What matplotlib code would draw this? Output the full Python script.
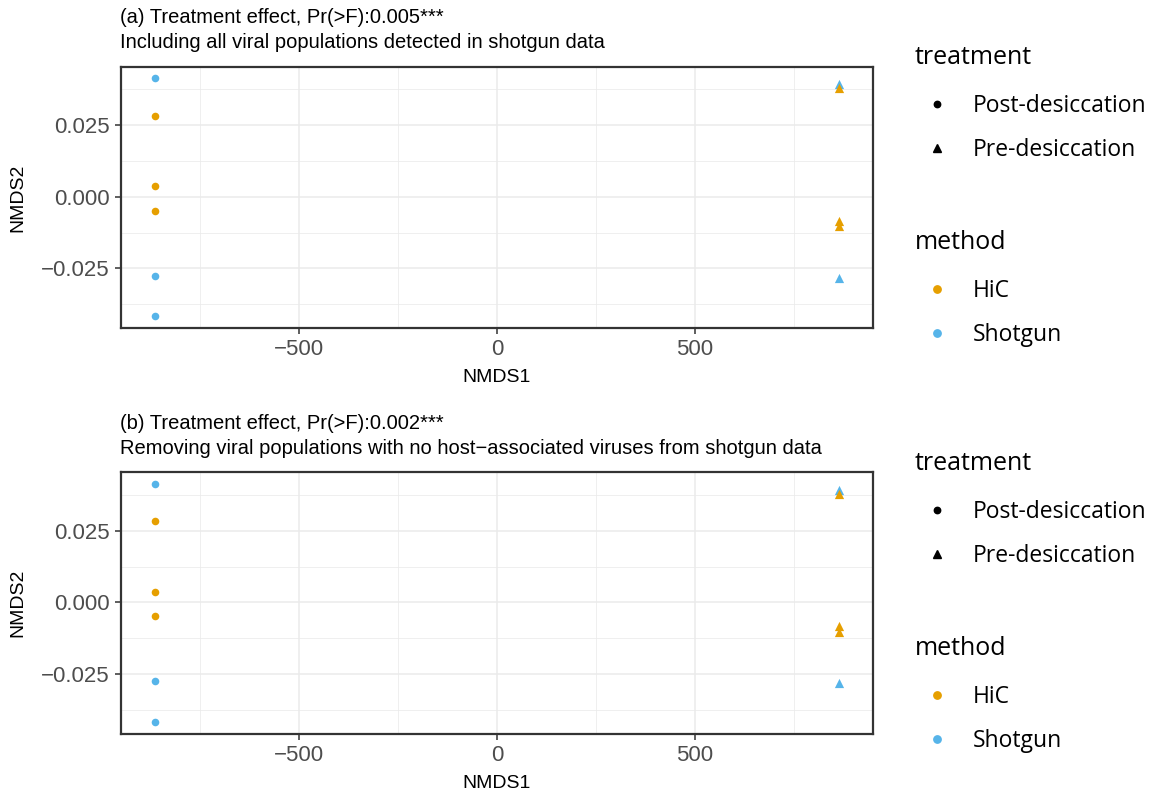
import matplotlib
matplotlib.use("Agg")
import matplotlib.pyplot as plt
from matplotlib.lines import Line2D
from matplotlib.ticker import MultipleLocator

# ---------------- data ----------------
methods = ["Shotgun", "HiC"]
method_colors = {"HiC": "#E69F00", "Shotgun": "#56B4E9"}
legend_methods = ["HiC", "Shotgun"]
treatments = ["Post-desiccation", "Pre-desiccation"]
treatment_markers = {"Post-desiccation": "o", "Pre-desiccation": "^"}

# panel (a)
a_nmds1 = [-864, -864, -864, -864, -864, -864, 864, 864, 864, 864, 864]
a_nmds2 = [0.0413, -0.0275, -0.0417, 0.0283, 0.0036, -0.0049,
           0.0393, -0.0283, 0.0378, -0.0084, -0.0103]
a_method = ["Shotgun", "Shotgun", "Shotgun", "HiC", "HiC", "HiC",
            "Shotgun", "Shotgun", "HiC", "HiC", "HiC"]
a_treat = ["Post-desiccation"] * 6 + ["Pre-desiccation"] * 5

# panel (b)
b_nmds1 = [-864, -864, -864, -864, -864, -864, 864, 864, 864, 864, 864]
b_nmds2 = [0.0413, -0.0275, -0.0417, 0.0283, 0.0036, -0.0049,
           0.0393, -0.0283, 0.0378, -0.0084, -0.0103]
b_method = a_method
b_treat = a_treat

title_a = ["(a) Treatment effect, Pr(>F):0.005***",
           "Including all viral populations detected in shotgun data"]
title_b = ["(b) Treatment effect, Pr(>F):0.002***",
           "Removing viral populations with no host\u2212associated viruses from shotgun data"]

x_ticks = [-500, 0, 500]
x_ticklabels = ["\u2212500", "0", "500"]
y_ticks = [-0.025, 0.0, 0.025]
y_ticklabels = ["\u22120.025", "0.000", "0.025"]

# ---------------- drawing ----------------
W, H = 1155, 792
fig = plt.figure(figsize=(W / 100, H / 100), dpi=100)

base_font = "Liberation Sans"
leg_font = "Open Sans"


def fx(px):
    return px / W


def fy(py):
    return 1 - py / H


def draw_panel(top, bottom, xs, ys, meths, treats, title, dy):
    left, right = 121, 873
    ax = fig.add_axes([fx(left), fy(bottom), fx(right) - fx(left), fy(top) - fy(bottom)])
    ax.set_facecolor("white")
    for m in methods:
        for t in treatments:
            px = [x for x, mm, tt in zip(xs, meths, treats) if mm == m and tt == t]
            py = [y for y, mm, tt in zip(ys, meths, treats) if mm == m and tt == t]
            if px:
                ax.scatter(px, py, s=30 if t == "Post-desiccation" else 44,
                           marker=treatment_markers[t], color=method_colors[m],
                           linewidths=0, zorder=3)
    ax.set_xlim(-950, 950)
    ax.set_ylim(-0.0458, 0.0454)
    ax.set_xticks(x_ticks)
    ax.set_xticklabels(x_ticklabels)
    ax.set_yticks(y_ticks)
    ax.set_yticklabels(y_ticklabels)
    ax.xaxis.set_minor_locator(MultipleLocator(250))
    ax.yaxis.set_minor_locator(MultipleLocator(0.0125))
    ax.grid(which="major", color="#EBEBEB", linewidth=1.1, zorder=0)
    ax.grid(which="minor", color="#EBEBEB", linewidth=0.55, zorder=0)
    ax.set_axisbelow(True)
    ax.tick_params(which="minor", length=0)
    ax.tick_params(which="major", length=4, width=1.1, color="#333333",
                   labelsize=16, labelcolor="#4D4D4D", pad=4)
    for lab in ax.get_xticklabels() + ax.get_yticklabels():
        lab.set_fontfamily(base_font)
    for sp in ax.spines.values():
        sp.set_color("#333333")
        sp.set_linewidth(1.6)
    hgt = bottom - top
    ax.set_xlabel("NMDS1", fontsize=14, fontfamily=base_font)
    ax.xaxis.label.set_va("center")
    ax.xaxis.set_label_coords(0.5, -50.0 / hgt)
    ax.set_ylabel("NMDS2", fontsize=14, fontfamily=base_font)
    ax.yaxis.label.set_va("center")
    ax.yaxis.set_label_coords(-(left - 18) / (right - left), 0.5)
    # two-line title
    fig.text(fx(120), fy(23 + dy), title[0], fontsize=14.5, fontfamily=base_font,
             va="baseline", ha="left")
    fig.text(fx(120), fy(48 + dy), title[1], fontsize=14.5, fontfamily=base_font,
             va="baseline", ha="left")

    # legends
    h_treat = [Line2D([], [], marker=treatment_markers[t], color="black",
                      linestyle="none", markersize=4.6 if t == "Post-desiccation" else 5.5)
               for t in treatments]
    h_meth = [Line2D([], [], marker="o", color=method_colors[m], linestyle="none",
                     markersize=5.3) for m in legend_methods]
    common = dict(frameon=False, loc="upper left", handlelength=1.92,
                  handletextpad=0.61, labelspacing=0.9, borderpad=0,
                  borderaxespad=0,
                  prop={"family": leg_font, "size": 16.5},
                  title_fontproperties={"family": leg_font, "size": 18})
    extra_gap = 3 * 72 / 100
    l1 = fig.legend(h_treat, treatments, title="treatment",
                    bbox_to_anchor=(fx(915), fy(45 + dy)), **common)
    l1._legend_box.align = "left"
    l1._legend_box.sep = 0.9 * 16.5 + extra_gap
    l2 = fig.legend(h_meth, legend_methods, title="method",
                    bbox_to_anchor=(fx(915), fy(230 + dy)), **common)
    l2._legend_box.align = "left"
    l2._legend_box.sep = 0.9 * 16.5 + extra_gap
    return ax


draw_panel(66.7, 328, a_nmds1, a_nmds2, a_method, a_treat, title_a, 0)
draw_panel(472.3, 733.5, b_nmds1, b_nmds2, b_method, b_treat, title_b, 406)

fig.savefig("out.png", dpi=100, facecolor="white")
